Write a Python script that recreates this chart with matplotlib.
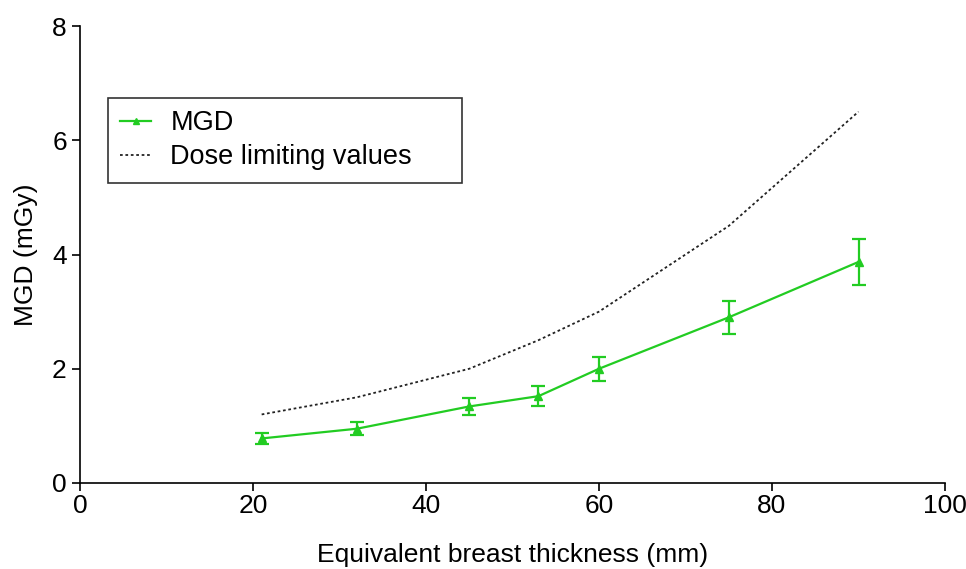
import matplotlib
matplotlib.use("Agg")
import matplotlib.pyplot as plt
from matplotlib.lines import Line2D

plt.rcParams['font.family'] = ['Liberation Sans', 'DejaVu Sans']

thickness = [21, 32, 45, 53, 60, 75, 90]
mgd = [0.78, 0.95, 1.34, 1.52, 2.0, 2.9, 3.87]
mgd_err = [0.09, 0.11, 0.15, 0.17, 0.21, 0.29, 0.40]
dose_limit = [1.2, 1.5, 2.0, 2.5, 3.0, 4.5, 6.5]

fig = plt.figure(figsize=(9.66, 5.69), dpi=100)
ax = fig.add_axes([80/966, 1-483/569, (945-80)/966, (483-26)/569])

green = '#22cc22'
ax.errorbar(thickness, mgd, yerr=mgd_err, color=green, lw=1.6, marker='^',
            markersize=6, capsize=5, capthick=1.6, elinewidth=1.6)
ax.plot(thickness, dose_limit, color='#222222', lw=1.3, linestyle=(0, (1.5, 1.5)))

ax.set_xlim(0, 100)
ax.set_ylim(0, 8)
ax.set_xticks([0, 20, 40, 60, 80, 100])
ax.set_yticks([0, 2, 4, 6, 8])
for s in ['top', 'right']:
    ax.spines[s].set_visible(False)
for s in ['left', 'bottom']:
    ax.spines[s].set_linewidth(1.2)
ax.tick_params(axis='both', labelsize=19, length=6, width=1.2, direction='out')
ax.tick_params(axis='x', pad=2)
ax.set_xlabel('Equivalent breast thickness (mm)', fontsize=19, labelpad=18)
ax.set_ylabel('MGD (mGy)', fontsize=19, labelpad=10)

handles = [
    Line2D([], [], color=green, lw=1.6, marker='^', markersize=5),
    Line2D([], [], color='#222222', lw=1.3, linestyle=(0, (1.5, 1.5))),
]
labels = ['MGD', 'Dose limiting values']
leg = ax.legend(handles, labels, loc='upper left',
                bbox_to_anchor=(108/966, 1-181/569, (462-108)/966, 83/569),
                bbox_transform=fig.transFigure, mode='expand', fontsize=19.5,
                frameon=True, fancybox=False, edgecolor='black', handlelength=1.15,
                borderaxespad=0, borderpad=0.45, labelspacing=0.3, handletextpad=0.7)
leg.get_frame().set_linewidth(1.2)

fig.savefig('out.png', dpi=100)
